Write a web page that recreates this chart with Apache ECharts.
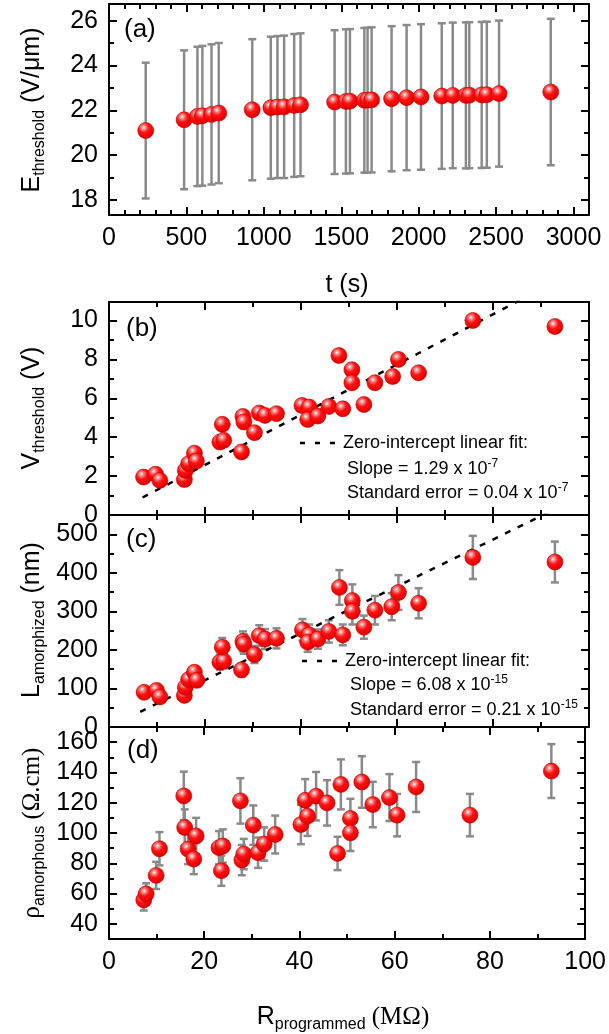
<!DOCTYPE html>
<html><head><meta charset="utf-8">
<script src="https://cdn.jsdelivr.net/npm/echarts@6/dist/echarts.min.js"></script>
<style>html,body{margin:0;padding:0;background:#fff}#c{width:609px;height:1034px}</style>
</head><body><div id="c"></div>
<script>
// ---------- data ----------
const aT   = [237, 485, 571, 603, 662, 709, 925, 1045, 1088, 1131, 1196, 1237, 1457, 1530, 1556, 1649, 1670, 1696, 1825, 1922, 2015, 2149, 2220, 2305, 2327, 2407, 2440, 2519, 2853];
const aE   = [21.10, 21.58, 21.73, 21.76, 21.82, 21.88, 22.03, 22.12, 22.15, 22.16, 22.22, 22.25, 22.37, 22.40, 22.41, 22.45, 22.46, 22.47, 22.52, 22.57, 22.60, 22.64, 22.67, 22.67, 22.68, 22.69, 22.70, 22.75, 22.82];
const aErr = [3.03, 3.10, 3.11, 3.12, 3.13, 3.13, 3.15, 3.17, 3.17, 3.18, 3.19, 3.19, 3.21, 3.22, 3.22, 3.23, 3.23, 3.24, 3.24, 3.24, 3.25, 3.25, 3.25, 3.26, 3.26, 3.26, 3.26, 3.26, 3.27];

const bR = [7.2, 9.7, 10.6, 15.7, 15.9, 16.6, 17.8, 18.2, 23.1, 23.9, 23.6, 27.6, 27.9, 28.1, 30.3, 31.3, 32.5, 34.9, 40.2, 41.7, 41.4, 43.5, 45.8, 48.7, 47.9, 50.6, 50.6, 53.1, 55.4, 59.1, 60.3, 64.5, 75.8, 92.9];
const bV = [1.95, 2.10, 1.78, 1.82, 2.29, 2.64, 3.18, 2.77, 3.75, 3.84, 4.66, 3.24, 5.07, 4.78, 4.23, 5.24, 5.12, 5.21, 5.63, 5.55, 4.91, 5.09, 5.58, 5.46, 8.20, 7.47, 6.80, 5.68, 6.80, 7.12, 8.00, 7.31, 10.0, 9.69];

const cR = [7.3, 9.9, 10.6, 15.7, 15.9, 16.6, 17.8, 18.3, 23.1, 23.9, 23.6, 27.6, 27.9, 28.1, 30.3, 31.3, 32.5, 34.9, 40.3, 41.7, 41.4, 43.5, 45.8, 48.7, 48.0, 50.7, 50.7, 53.1, 55.4, 58.9, 60.3, 64.5, 75.8, 92.9];
const cL = [90, 95, 78, 82, 103, 123, 142, 121, 168, 171, 207, 148, 222, 215, 188, 237, 228, 230, 252, 239, 220, 228, 248, 239, 362, 328, 300, 259, 303, 312, 349, 321, 440, 428];
const cErr = [12, 12, 10, 11, 12, 14, 16, 14, 19, 19, 24, 17, 26, 25, 22, 27, 26, 26, 28, 27, 25, 25, 29, 27, 45, 42, 34, 30, 37, 35, 45, 39, 56, 53];

const dR = [7.3, 7.8, 9.9, 10.6, 15.7, 15.9, 16.6, 17.8, 18.3, 23.1, 23.9, 23.6, 27.6, 27.9, 28.3, 30.3, 31.3, 32.6, 34.9, 40.3, 41.2, 41.7, 43.5, 45.8, 48.0, 48.7, 50.7, 50.7, 53.1, 55.4, 58.9, 60.5, 64.5, 75.8, 92.9];
const dRho = [55.8, 59.8, 72.0, 89.6, 124.5, 103.6, 89.4, 82.8, 98.0, 90.3, 91.4, 75.1, 121.2, 82.1, 86.1, 105.2, 87.0, 92.7, 99.0, 105.6, 121.6, 111.1, 124.3, 119.9, 86.5, 132.1, 109.6, 100.1, 133.7, 118.8, 123.4, 111.8, 130.4, 111.8, 140.9];
const dErr = [7, 7, 9, 11, 16, 12, 10, 10, 12, 11, 11, 10, 15, 10, 10, 13, 10, 11, 12.5, 13, 14, 13, 16, 15, 11, 16.5, 13, 12, 17, 15, 15.5, 14, 16.5, 14, 17.8];

// fit line end points
const bFit = [[7.0, 0.90], [90, 11.61]];
const cFit = [[6.5, 39.5], [92, 559.4]];

// tick values
const tTicks = [0, 500, 1000, 1500, 2000, 2500, 3000];
const tMinor = [100, 200, 300, 400, 600, 700, 800, 900, 1100, 1200, 1300, 1400, 1600, 1700, 1800, 1900, 2100, 2200, 2300, 2400, 2600, 2700, 2800, 2900];
const eTicks = [18, 20, 22, 24, 26];
const eMinor = [19, 21, 23, 25];
const rTicks = [0, 20, 40, 60, 80, 100];
const rMinor = [10, 30, 50, 70, 90];
const vTicks = [0, 2, 4, 6, 8, 10];
const vMinor = [1, 3, 5, 7, 9];
const lTicks = [0, 100, 200, 300, 400, 500];
const lMinor = [50, 150, 250, 350, 450];
const pTicks = [40, 60, 80, 100, 120, 140, 160];
const pMinor = [50, 70, 90, 110, 130, 150];

// ---------- chart ----------
const FONT = '"Liberation Sans", Arial, sans-serif';
const SERIF = '"Liberation Serif", "Times New Roman", serif';
const chart = echarts.init(document.getElementById('c'), null, {renderer: 'canvas'});

const grids = [
  {left: 109, top: 4, width: 480, height: 211},
  {left: 109, top: 302, width: 480, height: 213},
  {left: 109, top: 515, width: 480, height: 212},
  {left: 109, top: 727, width: 480, height: 212}
];

function axes(dim, gi, min, max, major, minor, showLabels) {
  const pos = dim === 'x' ? ['bottom', 'top'] : ['left', 'right'];
  const base = {type: 'value', gridIndex: gi, min: min, max: max, splitLine: {show: false}, scale: false};
  const list = [];
  pos.forEach((p, i) => {
    list.push(Object.assign({}, base, {
      position: p,
      axisLine: {show: true, onZero: false, lineStyle: {color: '#000', width: 2}},
      axisTick: {show: true, inside: true, length: 8, lineStyle: {color: '#000', width: 2}, customValues: major},
      axisLabel: {show: i === 0 && showLabels, customValues: major, fontSize: 25, color: '#000', fontFamily: FONT,
        margin: dim === 'x' ? 11 : 11, formatter: v => String(v)}
    }));
  });
  pos.forEach((p) => {
    list.push(Object.assign({}, base, {
      position: p,
      axisLine: {show: false, onZero: false},
      axisTick: {show: true, inside: true, length: 5, lineStyle: {color: '#000', width: 2}, customValues: minor},
      axisLabel: {show: false}
    }));
  });
  return list;
}

const xAxes = [].concat(
  axes('x', 0, 0, 3100, tTicks, tMinor, true),
  axes('x', 1, 0, 100, rTicks, rMinor, false),
  axes('x', 2, 0, 100, rTicks, rMinor, false),
  axes('x', 3, 0, 100, rTicks, rMinor, true)
);
const yAxes = [].concat(
  axes('y', 0, 17.33, 26.75, eTicks, eMinor, true),
  axes('y', 1, 0, 10.95, vTicks, vMinor, true),
  axes('y', 2, 0, 550, lTicks, lMinor, true),
  axes('y', 3, 30, 170, pTicks, pMinor, true)
);

const sphere = new echarts.graphic.RadialGradient(0.38, 0.32, 0.72, [
  {offset: 0, color: '#ffffff'},
  {offset: 0.2, color: '#ff7a7a'},
  {offset: 0.45, color: '#ff1010'},
  {offset: 0.85, color: '#e80000'},
  {offset: 1, color: '#b00000'}
]);

function errRender(params, api) {
  const x = api.value(0), lo = api.value(1), hi = api.value(2);
  const p1 = api.coord([x, hi]);
  const p2 = api.coord([x, lo]);
  const w = 4;
  const st = {stroke: '#8a8a8a', lineWidth: 2.5};
  return {type: 'group', children: [
    {type: 'line', shape: {x1: p1[0], y1: p1[1], x2: p2[0], y2: p2[1]}, style: st},
    {type: 'line', shape: {x1: p1[0] - w, y1: p1[1], x2: p1[0] + w, y2: p1[1]}, style: st},
    {type: 'line', shape: {x1: p2[0] - w, y1: p2[1], x2: p2[0] + w, y2: p2[1]}, style: st}
  ]};
}
function errData(xs, ys, es) { return xs.map((x, i) => [x, ys[i] - es[i], ys[i] + es[i]]); }
function pts(xs, ys) { return xs.map((x, i) => [x, ys[i]]); }

function scatter(gi, data) {
  return {type: 'scatter', xAxisIndex: gi * 4, yAxisIndex: gi * 4, data: data, symbol: 'circle', symbolSize: 16,
    itemStyle: {color: sphere, borderColor: '#c00000', borderWidth: 0.6, opacity: 1}, z: 5, silent: true, animation: false};
}
function errSeries(gi, data) {
  return {type: 'custom', xAxisIndex: gi * 4, yAxisIndex: gi * 4, data: data, renderItem: errRender, z: 2, silent: true, animation: false,
    encode: {x: 0, y: [1, 2]}};
}
function fitSeries(gi, data) {
  return {type: 'line', xAxisIndex: gi * 4, yAxisIndex: gi * 4, data: data, showSymbol: false, symbol: 'none', clip: true,
    lineStyle: {color: '#000', width: 2.5, type: [6, 8]}, z: 3, silent: true, animation: false};
}

const series = [
  errSeries(0, errData(aT, aE, aErr)), scatter(0, pts(aT, aE)),
  fitSeries(1, bFit), scatter(1, pts(bR, bV)),
  fitSeries(2, cFit), errSeries(2, errData(cR, cL, cErr)), scatter(2, pts(cR, cL)),
  errSeries(3, errData(dR, dRho, dErr)), scatter(3, pts(dR, dRho))
];

const mainRich = {
  m: {fontSize: 25, fontFamily: FONT, lineHeight: 32, verticalAlign: 'middle', fill: '#000', color: '#000'},
  s: {fontSize: 16, fontFamily: FONT, lineHeight: 16, verticalAlign: 'bottom', fill: '#000', color: '#000'},
  g: {fontSize: 25, fontFamily: SERIF, lineHeight: 32, verticalAlign: 'middle', fill: '#000', color: '#000'}
};
const annRich = {
  m: {fontSize: 18, fontFamily: FONT, lineHeight: 22, verticalAlign: 'middle', fill: '#000', color: '#000'},
  p: {fontSize: 12, fontFamily: FONT, lineHeight: 12, verticalAlign: 'top', fill: '#000', color: '#000'}
};
function ytitle(text, x, y, fam) {
  return {type: 'text', x: x, y: y, rotation: Math.PI / 2, silent: true, z: 10,
    style: {text: text, rich: mainRich, align: 'center', verticalAlign: 'middle', fill: '#000'}};
}
function plain(text, x, y, size, align) {
  return {type: 'text', x: x, y: y, silent: true, z: 10,
    style: {text: text, fontSize: size, fontFamily: FONT, fill: '#000', align: align || 'left', verticalAlign: 'middle'}};
}
function ann(text, x, y) {
  return {type: 'text', x: x, y: y, silent: true, z: 10,
    style: {text: text, rich: annRich, align: 'left', verticalAlign: 'middle', fill: '#000'}};
}
function dash(x1, x2, y) {
  return {type: 'line', silent: true, z: 10, shape: {x1: x1, y1: y, x2: x2, y2: y},
    style: {stroke: '#000', lineWidth: 2.5, lineDash: [5, 10]}};
}

const graphic = [
  ytitle('{m|E}{s|threshold}{m| (V/μm)}', 32, 110),
  ytitle('{m|V}{s|threshold}{m| (V)}', 32, 408),
  ytitle('{m|L}{s|amorphized}{m| (nm)}', 32, 620),
  ytitle('{g|ρ}{s|amorphous}{g| (Ω.cm)}', 32, 833),
  plain('t (s)', 347, 285, 25, 'center'),
  {type: 'text', x: 343, y: 1017, silent: true, z: 10,
    style: {text: '{m|R}{s|programmed}{g| (MΩ)}', rich: mainRich, align: 'center', verticalAlign: 'middle', fill: '#000'}},
  plain('(a)', 124, 30, 26),
  plain('(b)', 126, 329, 26),
  plain('(c)', 126, 540, 26),
  plain('(d)', 127, 751, 26),
  dash(300, 337, 443),
  ann('{m|Zero-intercept linear fit:}', 343, 443),
  ann('{m|Slope = 1.29 x 10}{p|-7}', 347, 469),
  ann('{m|Standard error = 0.04 x 10}{p|-7}', 347, 493),
  dash(302, 337, 661),
  ann('{m|Zero-intercept linear fit:}', 345, 661),
  ann('{m|Slope = 6.08 x 10}{p|-15}', 350, 685),
  ann('{m|Standard error = 0.21 x 10}{p|-15}', 350, 710)
];

chart.setOption({
  backgroundColor: '#fff',
  animation: false,
  grid: grids.map(g => Object.assign({show: false}, g)),
  xAxis: xAxes,
  yAxis: yAxes,
  series: series,
  graphic: graphic
});
</script>
</body></html>
